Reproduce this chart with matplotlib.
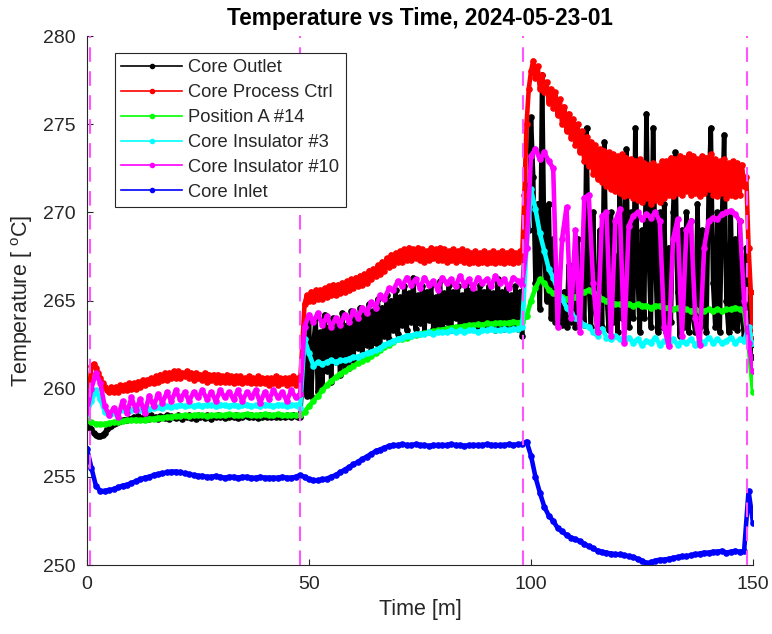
import numpy as np
import matplotlib
matplotlib.use("Agg")
import matplotlib.pyplot as plt

plt.rcParams['font.family'] = ['Liberation Sans', 'DejaVu Sans']
plt.rcParams['mathtext.fontset'] = 'custom'
plt.rcParams['mathtext.rm'] = 'Liberation Sans'
plt.rcParams['mathtext.it'] = 'Liberation Sans:italic'

# ---------------- data (minutes, deg C) ----------------
time_min = np.arange(151)          # 1-minute samples
time_half = np.arange(301) * 0.5   # half-minute samples

# half-minute samples
core_outlet = [
    257.9, 257.8, 257.7, 257.5, 257.4, 257.3, 257.3, 257.4, 257.5, 257.7, 257.8, 257.9, 258.0, 258.05, 258.1, 258.15, 258.2, 258.2, 258.25, 258.3,
    258.3, 258.4, 258.3, 258.45, 258.35, 258.3, 258.45, 258.4, 258.3, 258.5, 258.35, 258.4, 258.3, 258.45, 258.4, 258.35, 258.5, 258.3, 258.45, 258.4,
    258.35, 258.5, 258.4, 258.3, 258.45, 258.4, 258.5, 258.35, 258.45, 258.3, 258.5, 258.4, 258.45, 258.35, 258.5, 258.4, 258.3, 258.45, 258.4, 258.5,
    258.4, 258.45, 258.35, 258.5, 258.4, 258.45, 258.4, 258.5, 258.35, 258.45, 258.4, 258.5, 258.45, 258.4, 258.5, 258.4, 258.45, 258.35, 258.5, 258.4,
    258.45, 258.4, 258.5, 258.4, 258.45, 258.4, 258.5, 258.4, 258.45, 258.4, 258.5, 258.45, 258.4, 258.5, 258.45, 258.4, 258.4, 260.5, 262.0, 259.6,
    263.8, 259.6, 262.5, 264.0, 259.8, 263.2, 260.2, 264.2, 261.0, 263.5, 260.4, 264.0, 261.5, 263.8, 260.8, 264.3, 261.3, 263.6, 261.2, 264.4,
    261.6, 264.0, 262.3, 264.6, 261.8, 264.2, 262.5, 264.8, 262.2, 264.4, 262.6, 265.1, 262.4, 264.6, 263.0, 265.3, 262.8, 265.0, 263.3, 265.6,
    263.1, 265.2, 263.6, 265.8, 263.3, 265.4, 263.8, 266.3, 263.4, 265.3, 263.7, 265.8, 263.2, 265.5, 263.9, 265.9, 263.4, 265.2, 263.6, 266.1,
    263.5, 265.4, 263.8, 265.9, 263.3, 265.5, 264.0, 265.8, 263.5, 265.3, 263.7, 266.0, 263.4, 265.6, 263.8, 265.4, 263.3, 265.9, 263.6, 265.5,
    263.4, 265.8, 263.7, 265.4, 263.3, 266.2, 263.6, 265.5, 263.4, 265.7, 263.5, 265.3, 263.6, 265.8, 263.4, 265.5, 263.0, 268.0, 271.5, 269.0,
    275.4, 272.0, 266.0, 270.5, 264.5, 277.8, 268.0, 265.0, 270.5, 264.0, 268.5, 263.8, 266.5, 264.5, 263.6, 265.5, 263.5, 267.0, 263.8, 264.8,
    263.5, 268.5, 264.0, 266.0, 263.6, 274.8, 266.0, 263.5, 270.0, 264.5, 263.3, 269.0, 263.5, 274.0, 265.5, 263.3, 270.0, 263.8, 267.5, 263.2,
    271.0, 264.0, 269.5, 273.6, 263.5, 270.0, 264.0, 274.8, 266.5, 263.2, 269.0, 264.0, 275.6, 268.0, 263.5, 274.8, 267.5, 263.2, 270.0, 263.5,
    270.5, 263.2, 268.0, 263.8, 270.0, 273.4, 265.5, 263.0, 269.0, 263.5, 270.0, 263.2, 269.5, 264.0, 263.2, 270.5, 263.5, 269.0, 264.0, 263.2,
    271.0, 274.8, 266.0, 263.5, 270.0, 263.2, 269.5, 274.4, 265.0, 263.2, 270.0, 263.5, 268.5, 263.3, 269.5, 264.0, 263.0, 268.0, 263.0, 262.5,
    261.8]

# half-minute samples
core_process_ctrl = [
    258.6, 260.0, 261.3, 261.4, 261.2, 260.9, 260.6, 260.3, 260.1, 259.9, 259.8, 260.1, 259.8, 260.1, 259.8, 260.2, 259.9, 260.2, 259.9, 260.3,
    260.0, 260.3, 260.0, 260.4, 260.1, 260.5, 260.2, 260.5, 260.3, 260.6, 260.3, 260.7, 260.4, 260.8, 260.5, 260.9, 260.5, 260.9, 260.6, 261.0,
    260.6, 261.0, 260.6, 260.9, 260.7, 261.0, 260.6, 260.9, 260.5, 260.9, 260.6, 260.8, 260.5, 260.9, 260.4, 260.8, 260.5, 260.8, 260.4, 260.8,
    260.4, 260.7, 260.4, 260.8, 260.4, 260.7, 260.3, 260.7, 260.4, 260.7, 260.3, 260.6, 260.4, 260.7, 260.3, 260.6, 260.3, 260.7, 260.3, 260.6,
    260.3, 260.6, 260.2, 260.6, 260.3, 260.7, 260.2, 260.6, 260.3, 260.6, 260.2, 260.6, 260.3, 260.7, 260.2, 260.6, 260.4, 262.5, 264.8, 265.3,
    265.0, 265.5, 265.0, 265.6, 265.1, 265.6, 265.1, 265.7, 265.2, 265.8, 265.3, 265.9, 265.3, 265.9, 265.4, 266.0, 265.5, 266.1, 265.6, 266.2,
    265.7, 266.3, 265.8, 266.4, 265.9, 266.5, 266.0, 266.7, 266.2, 266.8, 266.4, 267.0, 266.5, 267.2, 266.7, 267.4, 266.9, 267.6, 267.0, 267.7,
    267.2, 267.8, 267.2, 267.9, 267.3, 268.0, 267.3, 267.9, 267.4, 268.0, 267.3, 267.9, 267.2, 267.8, 267.3, 268.0, 267.4, 267.9, 267.3, 268.0,
    267.3, 267.9, 267.2, 267.8, 267.3, 267.9, 267.2, 267.8, 267.3, 267.9, 267.2, 267.8, 267.1, 267.7, 267.2, 267.8, 267.1, 267.7, 267.2, 267.8,
    267.1, 267.7, 267.2, 267.8, 267.1, 267.7, 267.2, 267.8, 267.1, 267.7, 267.2, 267.8, 267.1, 267.7, 267.2, 267.8, 267.4, 271.0, 275.0, 277.0,
    278.0, 278.6, 277.6, 278.3, 277.0, 277.8, 276.8, 277.4, 276.2, 277.0, 275.9, 276.8, 275.5, 276.4, 275.0, 276.0, 274.6, 275.6, 274.2, 275.3,
    273.8, 275.0, 273.4, 274.6, 272.9, 274.3, 272.6, 274.0, 272.2, 273.8, 271.9, 273.6, 271.7, 273.5, 271.5, 273.4, 271.3, 273.3, 271.2, 273.2,
    271.1, 273.3, 270.9, 273.1, 271.0, 273.0, 270.8, 272.9, 270.7, 273.0, 270.6, 272.8, 270.8, 272.7, 270.5, 272.8, 270.7, 272.6, 270.6, 272.9,
    270.8, 272.9, 271.0, 273.1, 270.9, 273.0, 271.1, 273.2, 271.0, 273.1, 271.2, 273.3, 271.0, 273.2, 271.1, 273.0, 270.9, 273.2, 271.1, 273.1,
    271.3, 273.3, 271.0, 273.0, 270.9, 272.9, 271.1, 273.0, 270.8, 272.8, 271.0, 272.9, 270.9, 272.8, 271.0, 272.7, 271.5, 272.0, 268.0, 265.5,
    262.8]

# 1-minute samples
position_a14 = [
    258.2, 258.1, 258.0, 258.0, 258.0, 258.05, 258.1, 258.1, 258.15, 258.2,
    258.2, 258.25, 258.2, 258.25, 258.3, 258.3, 258.35, 258.35, 258.4, 258.4,
    258.45, 258.45, 258.5, 258.45, 258.5, 258.5, 258.5, 258.45, 258.5, 258.5,
    258.5, 258.5, 258.55, 258.5, 258.5, 258.5, 258.55, 258.5, 258.5, 258.5,
    258.55, 258.5, 258.5, 258.55, 258.5, 258.5, 258.5, 258.5, 258.5, 258.7,
    259.0, 259.3, 259.6, 259.9, 260.2, 260.45, 260.65, 260.85, 261.0, 261.15,
    261.3, 261.45, 261.55, 261.7, 261.85, 262.0, 262.2, 262.35, 262.5, 262.65,
    262.8, 262.8, 262.9, 263.0, 263.05, 263.1, 263.15, 263.2, 263.25, 263.3,
    263.35, 263.4, 263.45, 263.5, 263.5, 263.55, 263.6, 263.6, 263.65, 263.6,
    263.7, 263.65, 263.7, 263.75, 263.7, 263.75, 263.8, 263.75, 263.8, 264.1,
    265.0, 265.7, 266.2, 266.0, 265.6, 265.4, 265.3, 265.2, 265.1, 265.1,
    265.2, 265.4, 265.5, 265.6, 265.5, 265.3, 265.1, 265.0, 264.9, 264.8,
    264.8, 264.7, 264.8, 264.7, 264.8, 264.7, 264.7, 264.6, 264.7, 264.7,
    264.6, 264.6, 264.5, 264.6, 264.5, 264.5, 264.4, 264.5, 264.4, 264.4,
    264.5, 264.4, 264.5, 264.4, 264.5, 264.5, 264.6, 264.5, 264.4, 262.5,
    259.8]

core_insulator_3 = [
    258.6, 259.3, 259.9, 259.4, 258.7, 258.5, 258.6, 258.7, 258.8, 258.8,
    258.8, 258.85, 258.8, 258.9, 258.85, 258.9, 258.95, 258.9, 259.0, 258.95,
    259.0, 259.05, 259.0, 259.1, 259.0, 259.05, 259.0, 259.1, 259.05, 259.0,
    259.1, 259.05, 259.0, 259.1, 259.0, 259.05, 259.1, 259.0, 259.05, 259.0,
    259.1, 259.05, 259.0, 259.1, 259.05, 259.0, 259.1, 259.05, 258.9, 262.8,
    262.0, 261.3, 261.5, 261.4, 261.5, 261.6, 261.5, 261.6, 261.6, 261.7,
    261.8, 261.8, 261.9, 262.0, 262.1, 262.2, 262.3, 262.5, 262.6, 262.7,
    262.8, 262.9, 263.0, 263.0, 263.1, 263.1, 263.1, 263.2, 263.1, 263.2,
    263.2, 263.2, 263.3, 263.2, 263.3, 263.2, 263.3, 263.3, 263.2, 263.3,
    263.3, 263.4, 263.3, 263.3, 263.4, 263.3, 263.4, 263.4, 263.5, 268.0,
    271.3, 270.2, 268.8, 267.8, 266.8, 266.3, 265.6, 265.1, 264.6, 264.3,
    264.0, 263.8, 263.6, 263.5, 263.2, 263.0, 263.4, 262.9, 262.8, 263.0,
    262.8, 262.7, 262.9, 262.6, 262.8, 262.5, 262.7, 262.6, 262.9, 262.5,
    262.7, 262.6, 262.8, 262.5, 262.7, 262.6, 262.8, 262.5, 262.7, 262.6,
    262.9, 262.6, 262.8, 262.6, 262.7, 262.9, 262.6, 262.8, 262.7, 263.5,
    262.6]

core_insulator_10 = [
    258.7, 260.0, 260.9, 260.3, 259.0, 258.5, 258.9, 258.4, 259.3, 258.6,
    259.5, 258.8, 259.4, 258.6, 259.6, 259.0, 259.7, 259.2, 259.8, 259.3,
    259.9, 259.4, 259.8, 259.3, 259.8, 259.5, 259.9, 259.4, 259.8, 259.3,
    259.9, 259.5, 259.8, 259.4, 259.9, 259.3, 259.8, 259.5, 259.9, 259.2,
    259.8, 259.4, 259.9, 259.5, 259.8, 259.3, 259.9, 259.5, 259.7, 263.5,
    264.2, 263.8, 264.3, 263.6, 264.1, 263.5, 264.0, 263.6, 264.2, 263.8,
    264.4, 264.0, 264.6, 264.3, 264.9, 264.6, 265.3, 265.1, 265.7, 265.6,
    266.1, 265.8, 266.3, 265.9, 266.2, 265.7, 266.3, 265.9, 266.1, 265.6,
    266.3, 266.0, 266.2, 265.8, 266.4, 265.9, 266.2, 265.7, 266.3, 266.0,
    266.2, 265.8, 266.4, 266.0, 266.2, 265.7, 266.3, 266.1, 265.9, 268.0,
    273.2, 273.6, 273.0, 273.4, 272.9, 272.5, 263.5, 268.5, 270.3, 264.0,
    269.0, 263.2, 270.8, 271.0, 266.0, 263.2, 269.8, 270.0, 263.0, 269.5,
    270.2, 262.6, 269.2, 269.8, 270.0, 269.6, 269.9, 269.7, 270.0, 269.5,
    263.5, 262.4, 268.5, 269.6, 263.0, 269.0, 269.5, 264.0, 262.5, 268.0,
    269.5, 269.7, 269.6, 269.9, 270.0, 270.1, 269.9, 269.5, 265.0, 262.6,
    261.0]

core_inlet = [
    256.6, 255.5, 254.5, 254.2, 254.2, 254.25, 254.3, 254.4, 254.5, 254.55,
    254.65, 254.75, 254.85, 254.95, 255.0, 255.1, 255.15, 255.2, 255.25, 255.3,
    255.3, 255.25, 255.2, 255.15, 255.1, 255.05, 255.05, 255.0, 255.0, 255.05,
    255.0, 254.95, 255.0, 255.0, 254.95, 255.0, 255.0, 254.95, 254.95, 255.0,
    254.95, 254.95, 254.95, 254.95, 255.0, 254.95, 254.95, 255.0, 255.1, 255.0,
    254.85, 254.8, 254.8, 254.85, 254.9, 255.0, 255.1, 255.25, 255.4, 255.55,
    255.7, 255.85, 256.0, 256.15, 256.3, 256.45, 256.55, 256.65, 256.75, 256.8,
    256.8, 256.85, 256.8, 256.8, 256.85, 256.8, 256.8, 256.75, 256.8, 256.8,
    256.8, 256.8, 256.85, 256.8, 256.8, 256.75, 256.8, 256.8, 256.8, 256.8,
    256.85, 256.8, 256.8, 256.8, 256.8, 256.85, 256.8, 256.85, 256.85, 257.0,
    256.2, 255.0, 254.1, 253.3, 252.8, 252.5, 252.1, 251.9, 251.7, 251.55,
    251.45, 251.35, 251.2, 251.05, 250.95, 250.8, 250.75, 250.7, 250.65, 250.6,
    250.6, 250.55, 250.5, 250.45, 250.35, 250.25, 250.1, 250.15, 250.25, 250.3,
    250.3, 250.35, 250.4, 250.45, 250.5, 250.5, 250.55, 250.6, 250.65, 250.7,
    250.7, 250.75, 250.75, 250.8, 250.7, 250.75, 250.8, 250.75, 250.8, 254.2,
    252.4]

event_times = [0.7, 48.0, 98.1, 148.6]

series_labels = ["Core Outlet", "Core Process Ctrl", "Position A #14",
                 "Core Insulator #3", "Core Insulator #10", "Core Inlet"]
series_times = [time_half, time_half, time_min, time_min, time_min, time_min]
series_values = [core_outlet, core_process_ctrl, position_a14,
                 core_insulator_3, core_insulator_10, core_inlet]
series_colors = ["#000000", "#ff0000", "#00ff00", "#00ffff", "#ff00ff", "#0000ff"]

x_ticks = [0, 50, 100, 150]
y_ticks = [250, 255, 260, 265, 270, 275, 280]

# ---------------- figure ----------------
axis_color = "#262626"
fig = plt.figure(figsize=(7.72, 6.34), dpi=100)
ax = fig.add_axes([87 / 772, 1 - 565 / 634, (753 - 87) / 772, (565 - 36) / 634])

for tt, vals, lab, col in zip(series_times, series_values, series_labels, series_colors):
    ax.plot(tt, vals, '.-', color=col, label=lab, lw=3.3, ms=7.5)

for tv in event_times:
    ax.axvline(tv, color="#ff55ff", lw=1.5, dashes=(7, 4.5), zorder=5)

ax.set_xlim(0, 150)
ax.set_ylim(250, 280)
ax.set_xticks(x_ticks)
ax.set_yticks(y_ticks)
ax.tick_params(direction='in', length=4, width=0.8, colors=axis_color,
               labelsize=14, pad=8)
for side in ['top', 'right']:
    ax.spines[side].set_visible(False)
for side in ['left', 'bottom']:
    ax.spines[side].set_color(axis_color)
    ax.spines[side].set_linewidth(0.8)

ax.set_xlabel("Time [m]", fontsize=15.5, color=axis_color, labelpad=4)
ax.set_ylabel(r"Temperature [ $^{\mathrm{o}}$C]", fontsize=15.5, color=axis_color, labelpad=6)
ax.set_title("Temperature vs Time, 2024-05-23-01", fontsize=16.3,
             fontweight='bold', pad=8)

leg = ax.legend(loc='upper left', bbox_to_anchor=(0.042, 0.968), borderaxespad=0,
                fontsize=13.2, frameon=True, fancybox=False, framealpha=1,
                edgecolor=axis_color, handlelength=3.3, handletextpad=0.35,
                borderpad=0.35, labelspacing=0.43, numpoints=1)
leg.get_frame().set_linewidth(0.8)
for ln in leg.get_lines():
    ln.set_linewidth(1.2)
    ln.set_markersize(6)
for txt in leg.get_texts():
    txt.set_color(axis_color)

fig.savefig("out.png", dpi=100)
